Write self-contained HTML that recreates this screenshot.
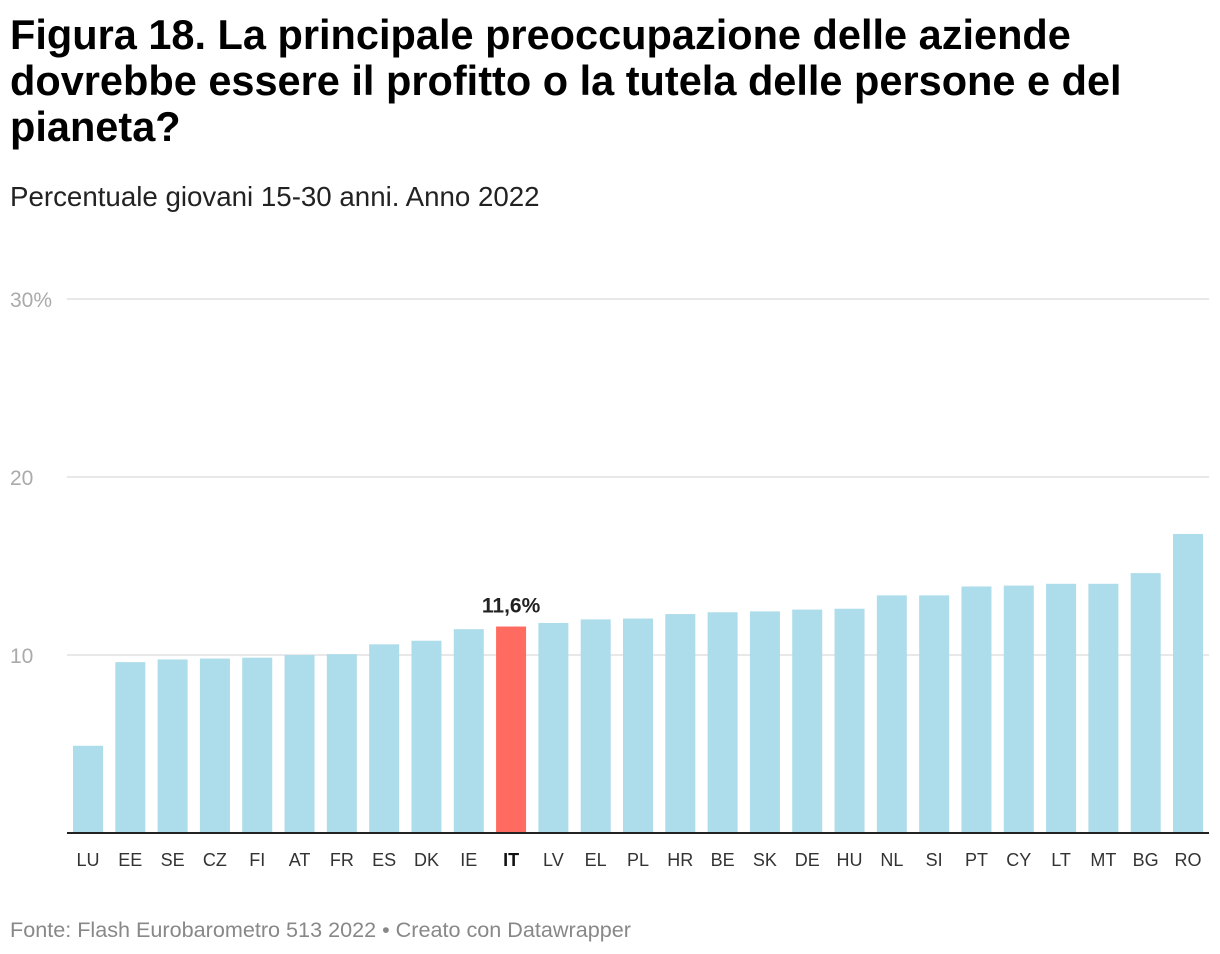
<!DOCTYPE html>
<html><head><meta charset="utf-8">
<style>
body{margin:0;width:1220px;height:954px;background:#fff;font-family:"Liberation Sans",sans-serif;overflow:hidden;position:relative}
h1{position:absolute;left:10px;top:12px;margin:0;font-size:41.5px;line-height:46px;font-weight:bold;color:#000;width:1130px}
.sub{position:absolute;left:10px;top:181px;font-size:27.7px;color:#222}
.src{position:absolute;left:10px;top:917px;font-size:21.6px;color:#888}
svg{position:absolute;left:0;top:0}
</style></head><body>
<h1>Figura 18. La principale preoccupazione delle aziende dovrebbe essere il profitto o la tutela delle persone e del pianeta?</h1>
<div class="sub">Percentuale giovani 15-30 anni. Anno 2022</div>
<svg id="chart" width="1220" height="954"></svg>
<div class="src">Fonte: Flash Eurobarometro 513 2022 • Creato con Datawrapper</div>
<script>
const categories=["LU","EE","SE","CZ","FI","AT","FR","ES","DK","IE","IT","LV","EL","PL","HR","BE","SK","DE","HU","NL","SI","PT","CY","LT","MT","BG","RO"];
const values=[4.9,9.6,9.75,9.8,9.85,10.0,10.05,10.6,10.8,11.45,11.6,11.8,12.0,12.05,12.3,12.4,12.45,12.55,12.6,13.35,13.35,13.85,13.9,14.0,14.0,14.6,16.8];
const tickValues=[10,20,30];
const tickLabels=["10","20","30%"];
const highlight="IT";
const highlightLabel="11,6%";
const NS="http://www.w3.org/2000/svg";
const svg=document.getElementById('chart');
const y0=833,pxPerUnit=17.8,left=67,right=1209,first=88,step=(1188-88)/26,bw=30;
const y=v=>y0-v*pxPerUnit;
const x=i=>first+i*step;
function mk(t,a){const e=document.createElementNS(NS,t);for(const k in a)e.setAttribute(k,a[k]);svg.appendChild(e);return e;}
tickValues.forEach((v,i)=>{
 const l=mk('line',{x1:left,x2:right,y1:y(v),y2:y(v),stroke:'#e0e0e0','stroke-width':1.5});
 
 
 const t=mk('text',{x:10,y:y(v)+8,'font-size':21,fill:'#aaa','font-family':'Liberation Sans'});
 t.textContent=tickLabels[i];
 
 
});
categories.forEach((c,i)=>{
 const hi=c===highlight;
 const r=mk('rect',{x:x(i)-bw/2,y:y(values[i]),width:bw,height:values[i]*pxPerUnit,fill:hi?'#ff6b61':'#addcea'});
 
 
 const t=mk('text',{x:x(i),y:866,'font-size':18,fill:hi?'#111':'#333','text-anchor':'middle','font-weight':hi?'bold':'normal','font-family':'Liberation Sans'});
 t.textContent=c;
 
 
 if(hi){
  const v=mk('text',{x:x(i),y:y(values[i])-14,'font-size':21,'font-weight':'bold',fill:'#222','text-anchor':'middle','font-family':'Liberation Sans'});
  v.textContent=highlightLabel;
  
  
 }
});
const ax=mk('line',{x1:left,x2:right,y1:y0,y2:y0,stroke:'#222','stroke-width':2});


</script>
</body></html>
